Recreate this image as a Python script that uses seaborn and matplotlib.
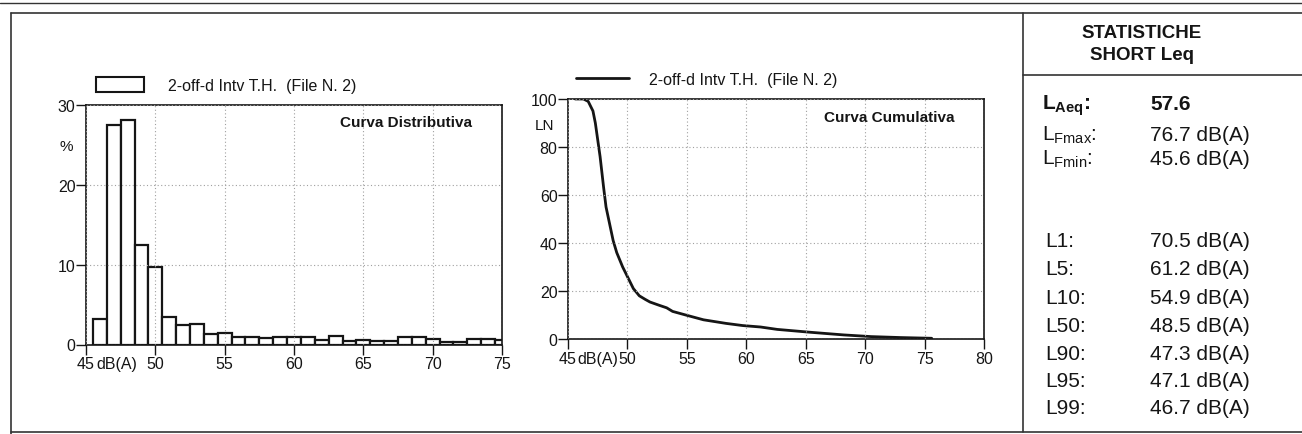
import numpy as np
import pandas as pd
import seaborn as sns
import matplotlib
matplotlib.use("Agg")
import matplotlib.pyplot as plt
from matplotlib.lines import Line2D
from matplotlib.patches import Patch

# ---------------- data ----------------
dist_db = [46, 47, 48, 49, 50, 51, 52, 53, 54, 55, 56, 57, 58, 59, 60,
           61, 62, 63, 64, 65, 66, 67, 68, 69, 70, 71, 72, 73, 74, 75]
dist_pct = [3.2, 27.5, 28.1, 12.5, 9.7, 3.5, 2.4, 2.6, 1.35, 1.5, 1.0, 1.0, 0.85, 1.0, 0.9,
            1.0, 0.55, 1.05, 0.4, 0.6, 0.45, 0.45, 0.9, 0.95, 0.7, 0.3, 0.35, 0.75, 0.75, 0.6]

cum_db = [45.6, 46.3, 46.7, 47.1, 47.3, 47.7, 48.0, 48.2, 48.5, 48.8, 49.1, 49.6, 50.1,
          50.5, 51.0, 51.5, 51.9, 52.7, 53.3, 53.8, 54.9, 56.4, 58.3, 59.7, 61.2, 62.6,
          65.4, 68.2, 70.5, 73.0, 75.6]
cum_pct = [100, 100, 99, 95, 90, 76, 63, 55, 48, 41, 36, 30, 25,
           21, 18, 16.5, 15.4, 14, 13, 11.5, 10, 8, 6.5, 5.6, 5, 4,
           2.8, 1.7, 1, 0.6, 0.3]

legend_label = "2-off-d Intv T.H.  (File N. 2)"
dist_title = "Curva Distributiva"
cum_title = "Curva Cumulativa"
dist_xticks = [45, 50, 55, 60, 65, 70, 75]
dist_yticks = [0, 10, 20, 30]
cum_xticks = [45, 50, 55, 60, 65, 70, 75, 80]
cum_yticks = [0, 20, 40, 60, 80, 100]

stats_title = ["STATISTICHE", "SHORT Leq"]
stats_top_labels = [r"$\mathbf{L_{Aeq}}$:", r"$\mathrm{L_{Fmax}}$:", r"$\mathrm{L_{Fmin}}$:"]
stats_top_values = ["57.6", "76.7 dB(A)", "45.6 dB(A)"]
stats_pct_labels = ["L1:", "L5:", "L10:", "L50:", "L90:", "L95:", "L99:"]
stats_pct_values = ["70.5 dB(A)", "61.2 dB(A)", "54.9 dB(A)", "48.5 dB(A)",
                    "47.3 dB(A)", "47.1 dB(A)", "46.7 dB(A)"]

# ---------------- style ----------------
sns.set_theme(style="white")
plt.rcParams["font.family"] = ["Liberation Sans", "DejaVu Sans"]
plt.rcParams["mathtext.fontset"] = "custom"
plt.rcParams["mathtext.rm"] = "Liberation Sans"
plt.rcParams["mathtext.bf"] = "Liberation Sans:bold"
plt.rcParams["mathtext.it"] = "Liberation Sans:italic"

INK = "#151515"
LINE = "#333333"
GRID = "#a0a0a0"

W, H = 1302, 435
fig = plt.figure(figsize=(W / 100, H / 100), dpi=100)
fig.patch.set_facecolor("white")


def fx(px):
    return px / W


def fy(py):
    return 1 - py / H


def style_axes(ax, xticks, yticks, xlim, ylim):
    ax.set_xlim(*xlim)
    ax.set_ylim(*ylim)
    ax.set_xticks(xticks)
    ax.set_yticks(yticks)
    ax.set_xlabel("")
    ax.set_ylabel("")
    ax.grid(True, linestyle=(0, (1, 2.2)), color=GRID, linewidth=0.8)
    ax.set_axisbelow(False)
    for s in ax.spines.values():
        s.set_visible(True)
        s.set_color(INK)
        s.set_linewidth(1.2)
    ax.tick_params(axis="x", direction="out", length=7.5, width=1.0, pad=1,
                   labelsize=11.5, colors=INK, bottom=True)
    ax.tick_params(axis="y", direction="out", length=7, width=1.0, pad=0.5,
                   labelsize=11.5, colors=INK, left=True)
    ax.set_facecolor("white")


def unit_text(ax, xval):
    ax.annotate("dB(A)", xy=(xval, 0), xycoords=("data", "axes fraction"),
                xytext=(0, -8.5), textcoords="offset points", ha="center", va="top",
                fontsize=11.5, color=INK)


# ---------------- histogram ----------------
ax1 = fig.add_axes([fx(86), fy(345.5), fx(502) - fx(86), fy(105.8) - fy(345.5)])
dist_df = pd.DataFrame({"dB": dist_db, "pct": dist_pct})
sns.histplot(data=dist_df, x="dB", weights="pct", discrete=True, shrink=1.0, ax=ax1,
             color="white", edgecolor=INK, linewidth=1.6, alpha=1)
style_axes(ax1, dist_xticks, dist_yticks, (45, 75), (0, 30))
ax1.set_xticklabels([str(t) for t in dist_xticks])
unit_text(ax1, 47.2)
ax1.text(0.928, 0.93, dist_title, transform=ax1.transAxes, ha="right", va="center",
         fontsize=11, fontweight="bold", color=INK)
fig.text(fx(66), fy(147), "%", ha="center", va="center", fontsize=11, color=INK)

fig.legend(handles=[Patch(facecolor="white", edgecolor=INK, linewidth=1.5)],
           labels=[legend_label], loc="center left",
           bbox_to_anchor=(fx(96), fy(86)), frameon=False, borderpad=0,
           borderaxespad=0, handlelength=3.0, handleheight=1.05,
           handletextpad=1.5, fontsize=11.5, labelcolor=INK)

# ---------------- cumulative ----------------
ax2 = fig.add_axes([fx(568), fy(340), fx(984) - fx(568), fy(100) - fy(340)])
cum_df = pd.DataFrame({"dB": cum_db, "pct": cum_pct})
sns.lineplot(data=cum_df, x="dB", y="pct", ax=ax2, color=INK, linewidth=2.0)
style_axes(ax2, cum_xticks, cum_yticks, (45, 80), (0, 100))
ax2.set_xticklabels([str(t) for t in cum_xticks])
unit_text(ax2, 47.5)
ax2.text(0.928, 0.925, cum_title, transform=ax2.transAxes, ha="right", va="center",
         fontsize=11, fontweight="bold", color=INK)
fig.text(fx(545), fy(126), "LN", ha="center", va="center", fontsize=11, color=INK)

fig.legend(handles=[Line2D([0], [0], color=INK, linewidth=2.0)],
           labels=[legend_label], loc="center left",
           bbox_to_anchor=(fx(576), fy(80)), frameon=False, borderpad=0,
           borderaxespad=0, handlelength=3.3, handletextpad=1.3,
           fontsize=11.5, labelcolor=INK)

# ---------------- frame lines ----------------
def hline(y, x0, x1, lw=1.2):
    fig.add_artist(Line2D([fx(x0), fx(x1)], [fy(y), fy(y)], color=LINE, linewidth=lw))


def vline(x, y0, y1, lw=1.2):
    fig.add_artist(Line2D([fx(x), fx(x)], [fy(y0), fy(y1)], color=LINE, linewidth=lw))


hline(4, 0, W, lw=1.0)
hline(14, 11, W)
hline(433, 11, W)
vline(11, 14, H)
vline(1023, 14, 433)
hline(76, 1023, W)

# ---------------- statistics panel ----------------
fig.text(fx(1142), fy(33), stats_title[0], ha="center", va="center",
         fontsize=13.5, fontweight="bold", color=INK)
fig.text(fx(1142), fy(55), stats_title[1], ha="center", va="center",
         fontsize=13.5, fontweight="bold", color=INK)

FS = 15
top_rows = [103, 134, 158]
for i, (lab, val) in enumerate(zip(stats_top_labels, stats_top_values)):
    bold = i == 0
    fig.text(fx(1042), fy(top_rows[i] + 7), lab, ha="left", va="baseline",
             fontsize=FS, fontweight="bold" if bold else "normal", color=INK)
    fig.text(fx(1150), fy(top_rows[i] + 7), val, ha="left", va="baseline",
             fontsize=FS, fontweight="bold" if bold else "normal", color=INK)

pct_rows = [240, 268, 297, 325, 353, 380, 407]
for y, lab, val in zip(pct_rows, stats_pct_labels, stats_pct_values):
    fig.text(fx(1045), fy(y + 7), lab, ha="left", va="baseline",
             fontsize=FS, color=INK)
    fig.text(fx(1150), fy(y + 7), val, ha="left", va="baseline",
             fontsize=FS, color=INK)

fig.savefig("out.png", dpi=100, facecolor="white")
